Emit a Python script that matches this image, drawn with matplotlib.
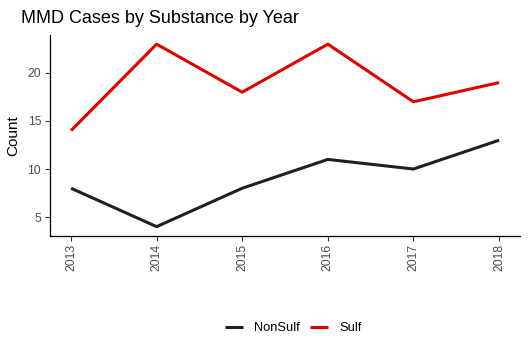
import matplotlib.pyplot as plt
import numpy as np

plt.rcParams['font.family'] = ['Liberation Sans', 'DejaVu Sans']

years = [2013, 2014, 2015, 2016, 2017, 2018]
nonsulf = [8, 4, 8, 11, 10, 13]
sulf = [14, 23, 18, 23, 17, 19]

fig = plt.figure(figsize=(5.30, 3.54), dpi=100)
ax = fig.add_axes([0.0936, 0.334, 0.8884, 0.567])

ax.plot(years, nonsulf, color='#231F20', lw=2.2, label='NonSulf', solid_capstyle='butt')
ax.plot(years, sulf, color='#E00000', lw=2.2, label='Sulf', solid_capstyle='butt')

ax.set_xlim(2013 - 0.25, 2018 + 0.25)
ax.set_ylim(4 - 0.95, 23 + 0.95)
ax.set_xticks(years)
ax.set_xticklabels([str(y) for y in years], rotation=90)
ax.set_yticks([5, 10, 15, 20])
ax.tick_params(colors='#333333', labelcolor='#4D4D4D', labelsize=8.7, length=3.6, width=0.8, pad=2.5)
for s in ['top', 'right']:
    ax.spines[s].set_visible(False)
for s in ['left', 'bottom']:
    ax.spines[s].set_linewidth(0.9)

ax.set_ylabel('Count', fontsize=11)
ax.yaxis.set_label_coords(-0.063, 0.5)
fig.text(0.0396, 0.949, 'MMD Cases by Substance by Year', fontsize=13, va='center')

ax.legend(loc='center', bbox_to_anchor=(0.553, 0.0734), bbox_transform=fig.transFigure,
          ncol=2, frameon=False, fontsize=9.3, handlelength=1.4, columnspacing=0.8,
          handletextpad=0.85, borderpad=0, borderaxespad=0)

fig.savefig('out.png', dpi=100)
